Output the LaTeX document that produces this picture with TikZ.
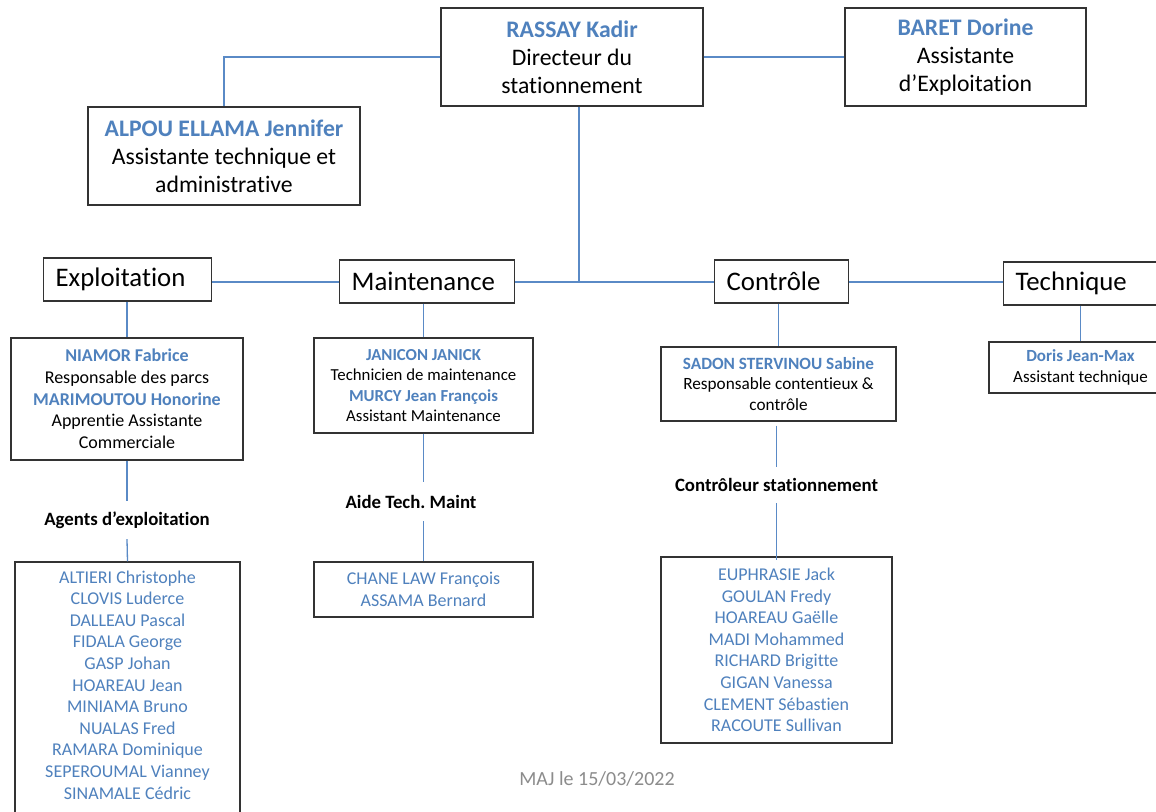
\documentclass[tikz,border=0pt]{standalone}
\usepackage{fontspec}
\setmainfont{Carlito}[Ligatures=NoCommon]
\definecolor{nameblue}{HTML}{4F81BD}
\definecolor{linkblue}{HTML}{5A8AC6}
\definecolor{boxgray}{HTML}{333333}
\definecolor{dategray}{HTML}{8C8C8C}
\newcommand\nm[1]{\textcolor{nameblue}{\textbf{#1}}}
\begin{document}
\frenchspacing
\begin{tikzpicture}[x=1pt,y=-1pt,
  box/.style={draw=boxgray, line width=1.3pt, inner sep=0pt, align=center, text=black},
  dept/.style={box, font=\fontsize{26.8}{30}\selectfont, align=left, inner xsep=12pt, minimum height=43pt, anchor=west},
  topf/.style={font=\fontsize{23.7}{28}\selectfont},
  midf/.style={font=\fontsize{18}{21.7}\selectfont},
  smallf/.style={font=\fontsize{16.8}{20.3}\selectfont},
  listf/.style={font=\fontsize{18}{21.6}\selectfont, text=nameblue, align=center},
  grp/.style={font=\bfseries\fontsize{18.8}{22}\selectfont, inner sep=0pt, minimum height=38pt},
  conn/.style={draw=linkblue, line width=1.3pt}]
\useasboundingbox (0,0) rectangle (1156,811);
\fill[white] (0,0) rectangle (1156,811);

% top level
\node[box, topf, minimum width=262, minimum height=98] (rassay) at (572,57)
  {\nm{RASSAY Kadir}\\Directeur du\\stationnement};
\node[box, topf, minimum width=241, minimum height=98] (baret) at (965.5,57)
  {\nm{BARET Dorine}\\Assistante\\d’Exploitation};
\node[box, topf, minimum width=272, minimum height=98] (alpou) at (224,156)
  {\nm{ALPOU ELLAMA Jennifer}\\Assistante technique et\\administrative};

% departments
\node[dept, text width=144pt] (expl) at (43,279.5) {Exploitation};
\node[dept, text width=151pt] (maint) at (339,281.5) {Maintenance};
\node[dept, text width=110pt] (ctrl) at (714,281.5) {Contrôle};
\node[dept, text width=143pt] (tech) at (1003,283.5) {Technique};
\coordinate (bus) at (579,282);

% second level
\node[box, midf, minimum width=232, minimum height=122] (niamor) at (127,399)
  {\nm{NIAMOR Fabrice}\\Responsable des parcs\\\nm{MARIMOUTOU Honorine}\\Apprentie Assistante\\Commerciale};
\node[box, smallf, minimum width=219, minimum height=95] (janicon) at (423.5,385.5)
  {\nm{JANICON JANICK}\\Technicien de maintenance\\\nm{MURCY Jean François}\\Assistant Maintenance};
\node[box, font=\fontsize{17.2}{20.5}\selectfont, minimum width=235, minimum height=74] (sadon) at (778.5,384)
  {\nm{SADON STERVINOU Sabine}\\Responsable contentieux \&\\contrôle};
\node[box, font=\fontsize{17}{21}\selectfont, minimum width=183, minimum height=51] (doris) at (1080.5,367.5)
  {\nm{Doris Jean-Max}\\Assistant technique};

% group labels
\node[grp] (agentsl) at (127,520) {Agents d’exploitation};
\node[grp, minimum height=39pt] (aidel) at (411,501.5) {Aide Tech. Maint};
\node[grp, minimum height=36pt] (ctrll) at (776.5,485) {Contrôleur stationnement};

% lists
\node[box, minimum width=225, minimum height=258] (agents) at (127.5,691) {};
\node[listf] (agentst) at (127.5,685)
  {ALTIERI Christophe\\CLOVIS Luderce\\DALLEAU Pascal\\FIDALA George\\GASP Johan\\HOAREAU Jean\\MINIAMA Bruno\\NUALAS Fred\\RAMARA Dominique\\SEPEROUMAL Vianney\\SINAMALE Cédric};
\node[box, listf, minimum width=219, minimum height=55] (chane) at (423.5,589.5)
  {CHANE LAW François\\ASSAMA Bernard};
\node[box, listf, minimum width=231, minimum height=186] (ctrlbox) at (776.5,650)
  {EUPHRASIE Jack\\GOULAN Fredy\\HOAREAU Gaëlle\\MADI Mohammed\\RICHARD Brigitte\\GIGAN Vanessa\\CLEMENT Sébastien\\RACOUTE Sullivan};

\node[font=\fontsize{20}{24}\selectfont, text=dategray] (maj) at (597,779) {MAJ le 15/03/2022};

% connectors
\draw[conn] (rassay.west) -| (alpou.north);
\draw[conn] (rassay.east) -- (baret.west);
\draw[conn] (rassay.south -| bus) -- (bus);
\draw[conn] (expl.east |- bus) -- (maint.west |- bus);
\draw[conn] (maint.east |- bus) -- (ctrl.west |- bus);
\draw[conn] (ctrl.east |- bus) -- (tech.west |- bus);

\draw[conn] (expl.south -| niamor.north) -- (niamor.north);
\draw[conn] (niamor.south) -- (agentsl.north);
\draw[conn] (agentsl.south) -- (agents.north);

\draw[conn] (maint.south -| janicon.north) -- (janicon.north);
\draw[conn] (janicon.south) -- (aidel.north -| janicon.south);
\draw[conn] (aidel.south -| chane.north) -- (chane.north);

\draw[conn] (ctrl.south -| sadon.north) -- (sadon.north);
\draw[conn] ([yshift=-4pt]sadon.south -| ctrlbox.north) -- (ctrll.north -| ctrlbox.north);
\draw[conn] (ctrll.south -| ctrlbox.north) -- ([yshift=-4pt]ctrlbox.north);

\draw[conn] (tech.south -| doris.north) -- (doris.north);
\end{tikzpicture}
\end{document}
